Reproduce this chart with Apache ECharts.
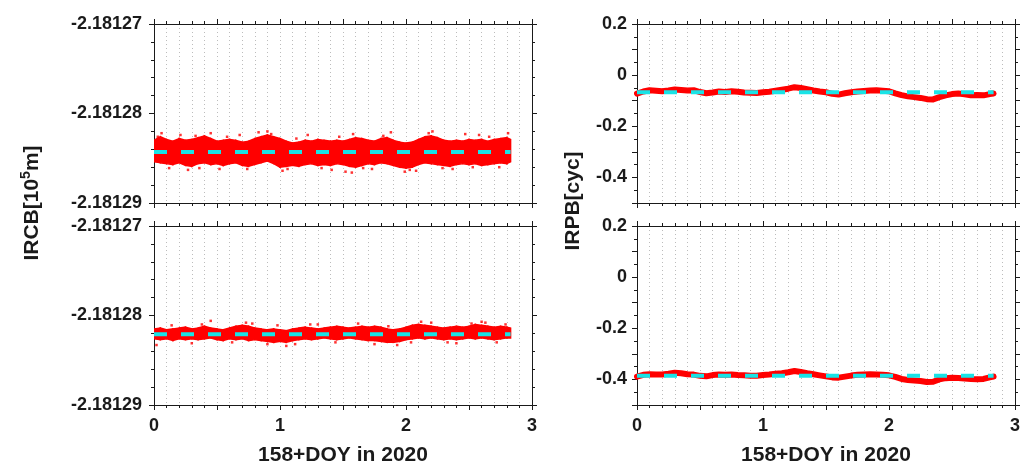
<!DOCTYPE html>
<html>
<head>
<meta charset="utf-8">
<script src="https://cdn.jsdelivr.net/npm/echarts@6/dist/echarts.min.js"></script>
<style>
html,body{margin:0;padding:0;background:#fff;}
#chart{width:1029px;height:465px;}
</style>
</head>
<body>
<div id="chart"></div>
<script>
// ---- data ----
const xDays = [0.00,0.05,0.10,0.15,0.20,0.25,0.30,0.35,0.40,0.45,0.50,0.55,0.60,0.65,0.70,0.75,0.80,0.85,0.90,0.95,
  1.00,1.05,1.10,1.15,1.20,1.25,1.30,1.35,1.40,1.45,1.50,1.55,1.60,1.65,1.70,1.75,1.80,1.85,1.90,1.95,
  2.00,2.05,2.10,2.15,2.20,2.25,2.30,2.35,2.40,2.45,2.50,2.55,2.60,2.65,2.70,2.75,2.80,2.83];

// IRCB (upper panel): upper / lower edge of the dense red scatter cloud
const ircbTopUpper = [-2.1812830,-2.1812826,-2.1812829,-2.1812831,-2.1812828,-2.1812830,-2.1812829,-2.1812827,-2.1812825,-2.1812828,
  -2.1812831,-2.1812830,-2.1812829,-2.1812830,-2.1812832,-2.1812831,-2.1812828,-2.1812826,-2.1812824,-2.1812826,
  -2.1812828,-2.1812831,-2.1812833,-2.1812832,-2.1812830,-2.1812831,-2.1812829,-2.1812830,-2.1812831,-2.1812830,
  -2.1812831,-2.1812829,-2.1812827,-2.1812828,-2.1812830,-2.1812831,-2.1812828,-2.1812827,-2.1812830,-2.1812832,
  -2.1812833,-2.1812832,-2.1812829,-2.1812826,-2.1812825,-2.1812827,-2.1812830,-2.1812831,-2.1812830,-2.1812831,
  -2.1812829,-2.1812830,-2.1812829,-2.1812831,-2.1812829,-2.1812828,-2.1812827,-2.1812829];
const ircbTopLower = [-2.1812854,-2.1812855,-2.1812856,-2.1812857,-2.1812855,-2.1812858,-2.1812859,-2.1812856,-2.1812855,-2.1812857,
  -2.1812856,-2.1812858,-2.1812856,-2.1812855,-2.1812858,-2.1812859,-2.1812857,-2.1812855,-2.1812853,-2.1812856,
  -2.1812860,-2.1812859,-2.1812858,-2.1812859,-2.1812857,-2.1812856,-2.1812858,-2.1812857,-2.1812858,-2.1812856,
  -2.1812857,-2.1812859,-2.1812860,-2.1812858,-2.1812856,-2.1812857,-2.1812855,-2.1812856,-2.1812858,-2.1812860,
  -2.1812861,-2.1812860,-2.1812857,-2.1812855,-2.1812856,-2.1812857,-2.1812858,-2.1812859,-2.1812857,-2.1812856,
  -2.1812857,-2.1812856,-2.1812858,-2.1812857,-2.1812856,-2.1812855,-2.1812856,-2.1812854];
const ircbTopOutX = [0.03,0.06,0.12,0.21,0.27,0.33,0.36,0.45,0.52,0.58,0.68,0.74,0.83,0.90,0.93,1.02,1.06,1.13,1.22,1.33,
  1.41,1.47,1.52,1.57,1.58,1.66,1.73,1.82,1.88,1.99,2.03,2.08,2.18,2.21,2.29,2.37,2.47,2.53,2.58,2.66,2.74,2.81];
const ircbTopOutY = [-2.1812826,-2.1812822,-2.1812861,-2.1812824,-2.1812863,-2.1812825,-2.1812861,-2.1812822,-2.1812862,-2.1812826,
  -2.1812824,-2.1812862,-2.1812821,-2.1812820,-2.1812823,-2.1812864,-2.1812862,-2.1812828,-2.1812824,-2.1812861,
  -2.1812863,-2.1812826,-2.1812865,-2.1812866,-2.1812823,-2.1812861,-2.1812862,-2.1812825,-2.1812821,-2.1812865,
  -2.1812863,-2.1812864,-2.1812822,-2.1812820,-2.1812861,-2.1812862,-2.1812823,-2.1812860,-2.1812824,-2.1812826,
  -2.1812860,-2.1812822];
const ircbTopMean = -2.1812843;

// IRCB (lower panel)
const ircbBotUpper = [-2.1812815,-2.1812814,-2.1812816,-2.1812815,-2.1812814,-2.1812813,-2.1812815,-2.1812814,-2.1812812,-2.1812814,
  -2.1812815,-2.1812816,-2.1812814,-2.1812812,-2.1812811,-2.1812812,-2.1812814,-2.1812815,-2.1812816,-2.1812815,
  -2.1812816,-2.1812817,-2.1812815,-2.1812814,-2.1812813,-2.1812814,-2.1812815,-2.1812814,-2.1812813,-2.1812812,
  -2.1812813,-2.1812814,-2.1812813,-2.1812812,-2.1812813,-2.1812812,-2.1812813,-2.1812815,-2.1812816,-2.1812815,
  -2.1812813,-2.1812811,-2.1812810,-2.1812811,-2.1812812,-2.1812813,-2.1812814,-2.1812813,-2.1812812,-2.1812813,
  -2.1812812,-2.1812810,-2.1812811,-2.1812812,-2.1812813,-2.1812812,-2.1812813,-2.1812814];
const ircbBotLower = [-2.1812826,-2.1812827,-2.1812826,-2.1812828,-2.1812826,-2.1812827,-2.1812826,-2.1812827,-2.1812826,-2.1812825,
  -2.1812827,-2.1812828,-2.1812826,-2.1812827,-2.1812826,-2.1812828,-2.1812827,-2.1812828,-2.1812829,-2.1812830,
  -2.1812829,-2.1812830,-2.1812828,-2.1812827,-2.1812826,-2.1812827,-2.1812826,-2.1812825,-2.1812826,-2.1812827,
  -2.1812826,-2.1812825,-2.1812826,-2.1812827,-2.1812828,-2.1812828,-2.1812829,-2.1812830,-2.1812830,-2.1812829,
  -2.1812827,-2.1812826,-2.1812825,-2.1812826,-2.1812825,-2.1812826,-2.1812827,-2.1812826,-2.1812827,-2.1812826,
  -2.1812825,-2.1812826,-2.1812825,-2.1812826,-2.1812827,-2.1812826,-2.1812825,-2.1812825];
const ircbBotOutX = [0.02,0.14,0.30,0.38,0.45,0.62,0.73,0.78,0.90,0.98,1.05,1.12,1.24,1.30,1.44,1.62,1.75,1.86,1.93,2.04,
  2.12,2.20,2.33,2.40,2.52,2.60,2.63,2.72,2.79];
const ircbBotOutY = [-2.1812833,-2.1812811,-2.1812831,-2.1812810,-2.1812806,-2.1812830,-2.1812808,-2.1812809,-2.1812832,-2.1812811,
  -2.1812834,-2.1812832,-2.1812810,-2.1812810,-2.1812830,-2.1812809,-2.1812832,-2.1812812,-2.1812833,-2.1812830,
  -2.1812807,-2.1812808,-2.1812830,-2.1812831,-2.1812809,-2.1812807,-2.1812808,-2.1812830,-2.1812810];
const ircbBotMean = -2.1812821;

// IRPB [cyc]
const irpbTop = [-0.072,-0.064,-0.059,-0.061,-0.063,-0.060,-0.056,-0.058,-0.060,-0.059,
  -0.066,-0.071,-0.068,-0.064,-0.066,-0.063,-0.065,-0.068,-0.069,-0.070,
  -0.067,-0.065,-0.061,-0.057,-0.053,-0.047,-0.050,-0.055,-0.060,-0.064,
  -0.067,-0.073,-0.076,-0.071,-0.067,-0.064,-0.062,-0.060,-0.059,-0.061,
  -0.063,-0.071,-0.078,-0.083,-0.086,-0.089,-0.094,-0.095,-0.086,-0.079,
  -0.074,-0.072,-0.075,-0.079,-0.078,-0.079,-0.074,-0.072];
const irpbTopMean = -0.067;
const irpbBot = [-0.389,-0.382,-0.380,-0.381,-0.381,-0.378,-0.374,-0.376,-0.380,-0.381,
  -0.386,-0.388,-0.383,-0.381,-0.382,-0.381,-0.383,-0.384,-0.386,-0.386,
  -0.383,-0.381,-0.378,-0.376,-0.372,-0.367,-0.371,-0.376,-0.380,-0.384,
  -0.388,-0.392,-0.393,-0.389,-0.385,-0.382,-0.381,-0.380,-0.381,-0.382,
  -0.384,-0.390,-0.398,-0.402,-0.404,-0.406,-0.410,-0.409,-0.400,-0.395,
  -0.393,-0.394,-0.396,-0.398,-0.399,-0.398,-0.392,-0.389];
const irpbBotMean = -0.386;
const meanLineX = [0, 2.83];

const xTickLabels = ['0','1','2','3'];
const xTitle = '158+DOY in 2020';

// ---- chart ----
const FONT = "'Liberation Sans', Arial, Helvetica, sans-serif";
const INK = '#1a1a1a';
const RED = '#ff0000';
const CYAN = '#19e3e6';
const grids = [
  {left:154, top:24, width:378, height:179},
  {left:154, top:226, width:378, height:179},
  {left:637, top:24, width:378, height:179},
  {left:637, top:226, width:378, height:179}
];
const dotted = {show:true, lineStyle:{color:'#bcbcbc', width:1, type:[1,3]}};
const xAxes = [], yAxes = [];
grids.forEach((g, gi) => {
  const bottomRow = gi === 1 || gi === 3;
  const leftCol = gi < 2;
  const xBase = {
    type:'value', gridIndex:gi, min:0, max:3, interval:0.5,
    axisLine:{show:true, onZero:false, lineStyle:{color:INK, width:1}},
    axisTick:{show:true, inside:false, length:5, lineStyle:{color:INK}},
    minorTick:{show:true, splitNumber:5, length:3, lineStyle:{color:INK}}
  };
  xAxes.push(Object.assign({}, xBase, {
    position:'bottom',
    axisLabel:{show:bottomRow, margin:12, fontSize:18, fontWeight:'bold', fontFamily:FONT, color:INK,
      formatter: v => Number.isInteger(v) ? xTickLabels[v] : ''},
    splitLine:dotted, minorSplitLine:dotted
  }));
  xAxes.push(Object.assign({}, xBase, {
    position:'top', axisLabel:{show:false}, splitLine:{show:false}, minorSplitLine:{show:false}
  }));
  const yBase = leftCol ? {
    type:'value', gridIndex:gi, min:-2.18129, max:-2.18127, interval:0.00001,
    minorTick:{show:true, splitNumber:5, length:3, lineStyle:{color:INK}}
  } : {
    type:'value', gridIndex:gi, min:-0.5, max:0.2, interval:0.1,
    minorTick:{show:true, splitNumber:2, length:3, lineStyle:{color:INK}}
  };
  Object.assign(yBase, {
    scale:true,
    axisLine:{show:true, onZero:false, lineStyle:{color:INK, width:1}},
    axisTick:{show:true, inside:false, length:5, lineStyle:{color:INK}},
    splitLine:{show:false}
  });
  yAxes.push(Object.assign({}, yBase, {
    position:'left',
    axisLabel:{show:true, margin: leftCol ? 12 : 10, fontSize:18, fontWeight:'bold', fontFamily:FONT, color:INK,
      showMinLabel:true, showMaxLabel:true,
      formatter: leftCol ? (v => v.toFixed(5)) : (v => {
        const k = Math.round(v * 10);
        if (k % 2 !== 0) return '';
        return k === 0 ? '0' : (k / 10).toFixed(1);
      })}
  }));
  yAxes.push(Object.assign({}, yBase, {position:'right', axisLabel:{show:false}}));
});

const series = [];
const meanLine = (gi, mean) => ({type:'line', xAxisIndex:gi * 2, yAxisIndex:gi * 2, symbol:'none', silent:true,
  data: meanLineX.map(x => [x, mean]),
  lineStyle:{color:CYAN, width:4, type:[13,14], cap:'butt'}, z:5});
function band(gi, upper, lower, outX, outY, mean) {
  const ax = {xAxisIndex: gi * 2, yAxisIndex: gi * 2};
  const rows = xDays.map((x, i) => [x, upper[i], lower[i]]);
  series.push(Object.assign({type:'custom', silent:true, z:2, clip:true,
    data: rows, encode:{x:0, y:[1,2]},
    renderItem: (params, api) => {
      const i = params.dataIndex;
      if (i >= rows.length - 1) return null;
      const a = rows[i], b = rows[i + 1];
      const pts = [api.coord([a[0], a[1]]), api.coord([b[0], b[1]]), api.coord([b[0], b[2]]), api.coord([a[0], a[2]])];
      return {type:'polygon', shape:{points:pts}, style:{fill:RED, stroke:RED, lineWidth:1.5}};
    }}, ax));
  series.push(Object.assign({type:'scatter', symbol:'rect', symbolSize:2.5, silent:true,
    itemStyle:{color:RED}, data: outX.map((x, i) => [x, outY[i]]), z:3}, ax));
  series.push(meanLine(gi, mean));
}
function thick(gi, ys, mean) {
  series.push({type:'line', xAxisIndex:gi * 2, yAxisIndex:gi * 2, symbol:'none', silent:true,
    data: xDays.map((x, i) => [x, ys[i]]),
    lineStyle:{color:RED, width:6, cap:'round', join:'round'}, z:2});
  series.push(meanLine(gi, mean));
}
band(0, ircbTopUpper, ircbTopLower, ircbTopOutX, ircbTopOutY, ircbTopMean);
band(1, ircbBotUpper, ircbBotLower, ircbBotOutX, ircbBotOutY, ircbBotMean);
thick(2, irpbTop, irpbTopMean);
thick(3, irpbBot, irpbBotMean);

const titleFont = {fontSize:21, fontWeight:'bold', fontFamily:FONT, fill:INK};
const option = {
  animation:false,
  backgroundColor:'#fff',
  grid:grids,
  xAxis:xAxes,
  yAxis:yAxes,
  series:series,
  graphic:[
    {type:'text', x:32, y:203, rotation:Math.PI/2, style:{
      text:'{a|IRCB[10}{s|5}{a|m]}', align:'center', verticalAlign:'middle',
      rich:{a:Object.assign({lineHeight:26}, titleFont), s:Object.assign({}, titleFont, {fontSize:14, lineHeight:14, verticalAlign:'top'})}
    }},
    {type:'text', x:573, y:201, rotation:Math.PI/2, style:Object.assign({text:'IRPB[cyc]', align:'center', verticalAlign:'middle'}, titleFont)},
    {type:'text', x:343, y:455, style:Object.assign({text:xTitle, align:'center', verticalAlign:'middle'}, titleFont)},
    {type:'text', x:826, y:455, style:Object.assign({text:xTitle, align:'center', verticalAlign:'middle'}, titleFont)}
  ]
};
const chart = echarts.init(document.getElementById('chart'), null, {renderer:'canvas'});
chart.setOption(option);
</script>
</body>
</html>
